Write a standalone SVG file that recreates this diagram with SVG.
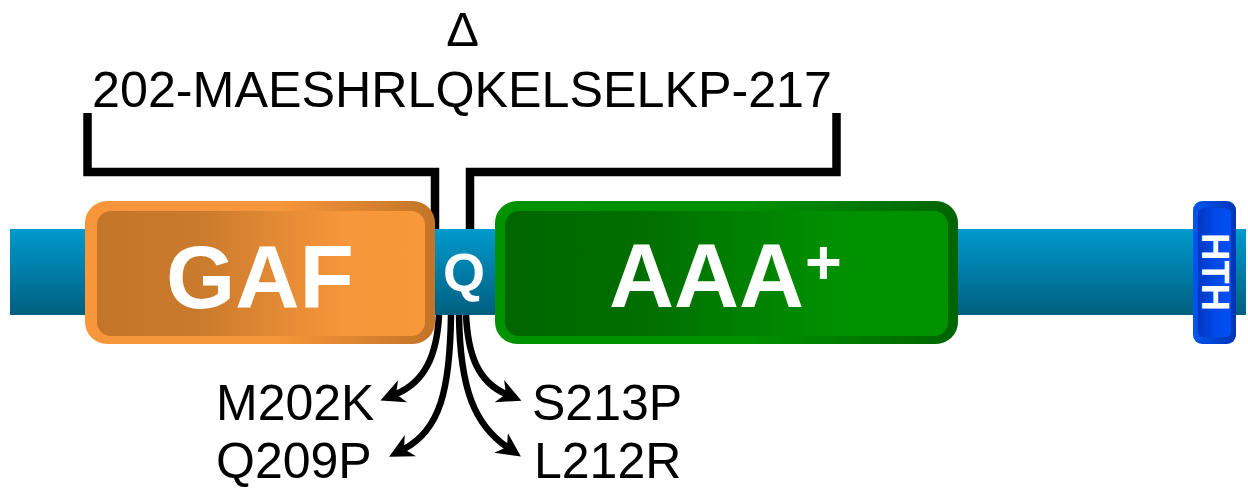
<svg xmlns="http://www.w3.org/2000/svg" width="1248" height="489" viewBox="0 0 1248 489">
<style>
.lbl{font-family:"Liberation Sans",Arial,sans-serif;font-size:50px;fill:#000}
.dom{font-family:"Liberation Sans",Arial,sans-serif;font-weight:bold;fill:#fff}
.arr{fill:none;stroke:#000;stroke-width:6.5}
</style>
<defs>
<linearGradient id="bar" x1="0" y1="0" x2="0" y2="1">
<stop offset="0" stop-color="#009ACD"/><stop offset="1" stop-color="#005F80"/>
</linearGradient>
<linearGradient id="gafO" x1="0" y1="0" x2="1" y2="0">
<stop offset="0" stop-color="#F7963A"/><stop offset="0.55" stop-color="#F7963A"/><stop offset="1" stop-color="#C27428"/>
</linearGradient>
<linearGradient id="gafI" x1="0" y1="0" x2="1" y2="0">
<stop offset="0" stop-color="#C47628"/><stop offset="0.3" stop-color="#C97A2C"/><stop offset="0.75" stop-color="#F7963A"/><stop offset="1" stop-color="#F8983A"/>
</linearGradient>
<linearGradient id="aaaO" x1="0" y1="0" x2="1" y2="0">
<stop offset="0" stop-color="#009200"/><stop offset="0.55" stop-color="#009000"/><stop offset="1" stop-color="#006400"/>
</linearGradient>
<linearGradient id="aaaI" x1="0" y1="0" x2="1" y2="0">
<stop offset="0" stop-color="#006600"/><stop offset="0.3" stop-color="#006E00"/><stop offset="0.75" stop-color="#009000"/><stop offset="1" stop-color="#009200"/>
</linearGradient>
<linearGradient id="hthO" x1="0" y1="0" x2="1" y2="0">
<stop offset="0" stop-color="#0055F0"/><stop offset="1" stop-color="#0035B5"/>
</linearGradient>
<linearGradient id="hthI" x1="0" y1="0" x2="1" y2="0">
<stop offset="0" stop-color="#0038C0"/><stop offset="0.5" stop-color="#0048E8"/><stop offset="1" stop-color="#0050F5"/>
</linearGradient>
<marker id="ah" viewBox="0 0 10 10" refX="3" refY="5" markerWidth="3.7" markerHeight="3.7" orient="auto" markerUnits="strokeWidth">
<path d="M0,0 L10,5 L0,10 L3,5 z" fill="#000"/>
</marker>
</defs>

<g id="bracket">
<path d="M87.5,113 V172 H435 V232 M470,232 V172 H836.5 V113" fill="none" stroke="#000" stroke-width="8.5" stroke-linejoin="miter"/>
</g>

<g id="labels-top">
<text x="462.5" y="46" text-anchor="middle" font-family="Liberation Sans, Arial, sans-serif" font-size="49">Δ</text>
<text x="92" y="107" font-family="Liberation Sans, Arial, sans-serif" font-size="50" textLength="740" lengthAdjust="spacingAndGlyphs">202-MAESHRLQKELSELKP-217</text>
</g>

<g id="backbone">
<rect x="10" y="229" width="1236" height="86" fill="url(#bar)"/>
</g>

<g id="Q">
<text class="dom" x="464" y="291" text-anchor="middle" font-size="54">Q</text>
</g>

<g id="GAF">
<rect x="85" y="201" width="350" height="143" rx="22" fill="url(#gafO)"/>
<rect x="97" y="211" width="328" height="125" rx="14" fill="url(#gafI)"/>
<text class="dom" x="260" y="308" text-anchor="middle" font-size="89">GAF</text>
</g>

<g id="AAA">
<rect x="495" y="201" width="463" height="143" rx="22" fill="url(#aaaO)"/>
<rect x="505" y="211" width="443" height="125" rx="14" fill="url(#aaaI)"/>
<text class="dom" x="609" y="307" font-size="90">AAA</text>
<text class="dom" x="805" y="284" font-size="63">+</text>
</g>

<g id="HTH">
<rect x="1193" y="201" width="43" height="143" rx="9" fill="url(#hthO)"/>
<rect x="1198" y="208" width="33" height="129" rx="6" fill="url(#hthI)"/>
<text class="dom" x="0" y="0" text-anchor="middle" font-size="38" transform="translate(1202,272) rotate(90)">HTH</text>
</g>

<g id="connectors">
<path class="arr" d="M439,315 C437,355 425,382 396,394" marker-end="url(#ah)"/>
<path class="arr" d="M451,315 C450,390 440,430 404,449" marker-end="url(#ah)"/>
<path class="arr" d="M459,315 C460,390 475,425 507,447" marker-end="url(#ah)"/>
<path class="arr" d="M466,315 C468,355 478,382 506,394" marker-end="url(#ah)"/>
</g>

<g id="mutations">
<text class="lbl" x="216" y="420">M202K</text>
<text class="lbl" x="216" y="478">Q209P</text>
<text class="lbl" x="532" y="420">S213P</text>
<text class="lbl" x="534" y="478">L212R</text>
</g>
</svg>
